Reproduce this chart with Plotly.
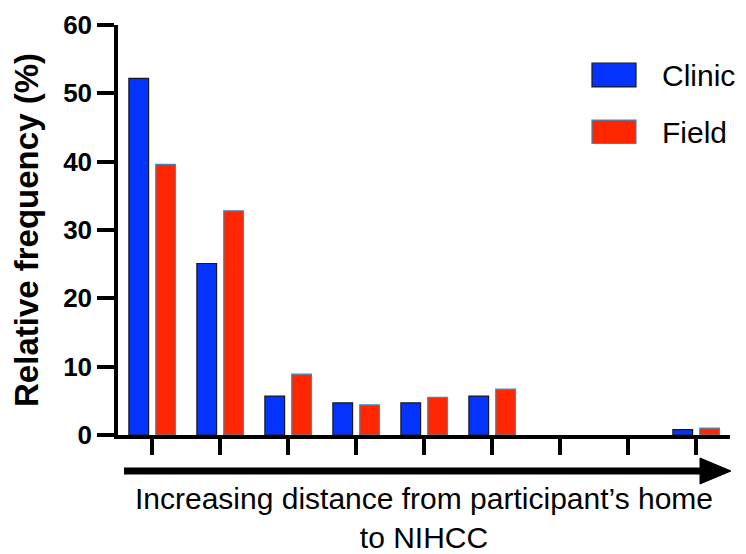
import plotly.graph_objects as go

categories = ["1", "2", "3", "4", "5", "6", "7", "8", "9"]
clinic = [52.2, 25.1, 5.7, 4.7, 4.7, 5.7, 0, 0, 0.8]
field = [39.6, 32.8, 8.9, 4.4, 5.5, 6.7, 0, 0, 1.0]
y_ticks = [0, 10, 20, 30, 40, 50, 60]

BLUE = "#0433FF"
RED = "#FF2600"
FONT = "Liberation Sans, Arial, sans-serif"


def edge_widths(values):
    return [0 if v == 0 else 1.2 for v in values]


fig = go.Figure()
fig.add_trace(go.Bar(
    x=categories, y=clinic, name="Clinic",
    marker=dict(color=BLUE, line=dict(color="#1a1a1a", width=edge_widths(clinic))),
    width=0.29, offset=-0.34, showlegend=False,
))
fig.add_trace(go.Bar(
    x=categories, y=field, name="Field",
    marker=dict(color=RED, line=dict(color="#3a8cc0", width=edge_widths(field))),
    width=0.29, offset=0.055, showlegend=False,
))

fig.update_layout(
    width=738, height=546,
    margin=dict(l=110, r=16, t=17, b=119, autoexpand=False),
    paper_bgcolor="white", plot_bgcolor="white",
    font=dict(family=FONT, color="black"),
    barmode="group",
)
fig.update_xaxes(
    type="category", categoryorder="array", categoryarray=categories,
    range=[-0.5, 8.5], automargin=False, layer="above traces",
    showline=True, linecolor="black", linewidth=3.5,
    ticks="outside", ticklen=16, tickwidth=3.5, tickcolor="black",
    showticklabels=False, showgrid=False, zeroline=False,
    title=dict(text="Increasing distance from participant’s home<br>to NIHCC",
               font=dict(family=FONT, size=30, color="black"), standoff=52),
)
fig.update_yaxes(
    range=[0, 60], tickvals=y_ticks, automargin=False, layer="above traces",
    showline=True, linecolor="black", linewidth=3.5,
    ticks="outside", ticklen=17, tickwidth=3.5, tickcolor="black",
    tickfont=dict(family=FONT, size=26, color="black", weight="bold"),
    showgrid=False, zeroline=False,
    title=dict(text="Relative frequency (%)",
               font=dict(family=FONT, size=33, color="black", weight="bold"), standoff=17),
)

# Arrow under x-axis
fig.add_shape(type="line", xref="paper", yref="paper",
              x0=0.0098, x1=0.954, y0=-0.0878, y1=-0.0878,
              line=dict(color="black", width=7))
fig.add_shape(type="path", xref="paper", yref="paper",
              path="M0.951,-0.0561 L1.0016,-0.0878 L0.951,-0.1195 Z",
              fillcolor="black", line=dict(color="black", width=1))

# Legend drawn as swatches + labels
legend_items = [("Clinic", BLUE, "#1a1a1a", 0.907, 0.849, 0.878),
                ("Field", RED, "#3a8cc0", 0.768, 0.711, 0.739)]
for name, fill, edge, y1, y0, yt in legend_items:
    fig.add_shape(type="rect", xref="paper", yref="paper",
                  x0=0.7745, x1=0.8464, y0=y0, y1=y1,
                  fillcolor=fill, line=dict(color=edge, width=1.2))
    fig.add_annotation(text=name, xref="paper", yref="paper",
                       x=0.8856, y=yt, xanchor="left", yanchor="middle",
                       showarrow=False,
                       font=dict(family=FONT, size=30, color="black"))

fig.write_html("out.html")
